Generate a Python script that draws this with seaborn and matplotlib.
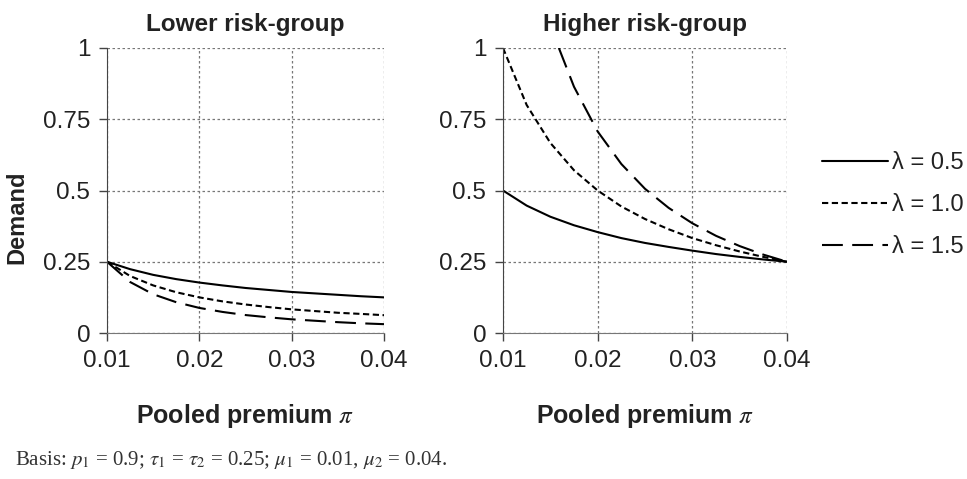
import matplotlib
matplotlib.use("Agg")
import matplotlib.pyplot as plt
import numpy as np
import pandas as pd
import seaborn as sns

# pooled premium grid
premium = [0.01, 0.0125, 0.015, 0.0175, 0.02, 0.0225, 0.025, 0.0275, 0.03, 0.0325, 0.035, 0.0375, 0.04]

# lower risk-group demand
low_l05 = [0.25, 0.224, 0.204, 0.189, 0.177, 0.167, 0.158, 0.151, 0.144, 0.139, 0.134, 0.129, 0.125]
low_l10 = [0.25, 0.200, 0.167, 0.143, 0.125, 0.111, 0.100, 0.091, 0.083, 0.077, 0.071, 0.067, 0.0625]
low_l15 = [0.25, 0.179, 0.136, 0.108, 0.088, 0.074, 0.063, 0.055, 0.048, 0.043, 0.038, 0.034, 0.031]

# higher risk-group demand
high_l05 = [0.50, 0.447, 0.408, 0.378, 0.354, 0.333, 0.316, 0.302, 0.289, 0.277, 0.267, 0.258, 0.25]
high_l10 = [1.00, 0.800, 0.667, 0.571, 0.500, 0.444, 0.400, 0.364, 0.333, 0.308, 0.286, 0.267, 0.25]
premium_h15 = [0.0159, 0.0175, 0.02, 0.0225, 0.025, 0.0275, 0.03, 0.0325, 0.035, 0.0375, 0.04]
high_l15 = [1.00, 0.864, 0.707, 0.593, 0.506, 0.439, 0.385, 0.341, 0.305, 0.275, 0.25]

lambdas = ["0.5", "1.0", "1.5"]
y_ticks = [0, 0.25, 0.5, 0.75, 1]
y_tick_labels = ["0", "0.25", "0.5", "0.75", "1"]
x_ticks = [0.01, 0.02, 0.03, 0.04]
x_tick_labels = ["0.01", "0.02", "0.03", "0.04"]


def to_long(series):
    rows = []
    for lam, xs, ys in series:
        for x, y in zip(xs, ys):
            rows.append({"premium": x, "demand": y, "lam": lam})
    return pd.DataFrame(rows)


low_df = to_long([("0.5", premium, low_l05), ("1.0", premium, low_l10), ("1.5", premium, low_l15)])
high_df = to_long([("0.5", premium, high_l05), ("1.0", premium, high_l10), ("1.5", premium_h15, high_l15)])

sns.set_style("white")
plt.rcParams["font.family"] = ["Liberation Sans", "DejaVu Sans"]
plt.rcParams["mathtext.fontset"] = "stix"

dash_map = {"0.5": "", "1.0": (3, 1.7), "1.5": (10, 4.5)}

fig = plt.figure(figsize=(9.67, 4.79), dpi=100)
ax1 = fig.add_axes([107 / 967, 1 - 333 / 479, 277 / 967, 285 / 479])
ax2 = fig.add_axes([503 / 967, 1 - 333 / 479, 284 / 967, 285 / 479])

for ax, df, title in [(ax1, low_df, "Lower risk-group"), (ax2, high_df, "Higher risk-group")]:
    sns.lineplot(data=df, x="premium", y="demand", style="lam", style_order=lambdas,
                 dashes=dash_map, color="black", linewidth=1.5, ax=ax,
                 legend=(ax is ax2), estimator=None, sort=True)
    ax.set_xlim(0.01, 0.04)
    ax.set_ylim(0, 1)
    ax.set_xticks(x_ticks)
    ax.set_xticklabels(x_tick_labels)
    ax.set_yticks(y_ticks)
    ax.set_yticklabels(y_tick_labels)
    ax.grid(True, linestyle=(0, (2, 2)), color="#777777", linewidth=0.9)
    ax.set_axisbelow(True)
    for side in ["top", "right"]:
        ax.spines[side].set_visible(False)
    ax.spines["left"].set_color("#444444")
    ax.spines["bottom"].set_color("#777777")
    ax.tick_params(axis="both", which="major", direction="out", length=6, width=1,
                   color="#444444", labelsize=17.5, pad=6, left=True, bottom=True,
                   labelcolor="#222222")
    ax.set_title(title, fontsize=17.5, fontweight="bold", pad=12, color="#222222")
    ax.set_xlabel(r"Pooled premium $\pi$", fontsize=18, fontweight="bold", labelpad=22,
                  color="#222222")
    ax.set_ylabel("")

ax1.set_ylabel("Demand", fontsize=17, fontweight="bold", color="#222222")
ax1.yaxis.set_label_coords(-0.285, 0.407)

handles, _ = ax2.get_legend_handles_labels()
ax2.get_legend().remove()
fig.legend(handles[-3:], [f"λ = {lam}" for lam in lambdas], loc="center left",
           bbox_to_anchor=(0.850, 0.572), frameon=False, fontsize=17,
           handlelength=2.8, handletextpad=0.15, labelspacing=0.85,
           borderpad=0, borderaxespad=0, labelcolor="#222222")

fig.text(0.016, 0.030,
         r"Basis: $p_1$ = 0.9; $\tau_1$ = $\tau_2$ = 0.25; $\mu_1$ = 0.01, $\mu_2$ = 0.04.",
         fontsize=15, family=["Liberation Serif", "DejaVu Serif"], color="#333333")

fig.savefig("out.png", dpi=100)
